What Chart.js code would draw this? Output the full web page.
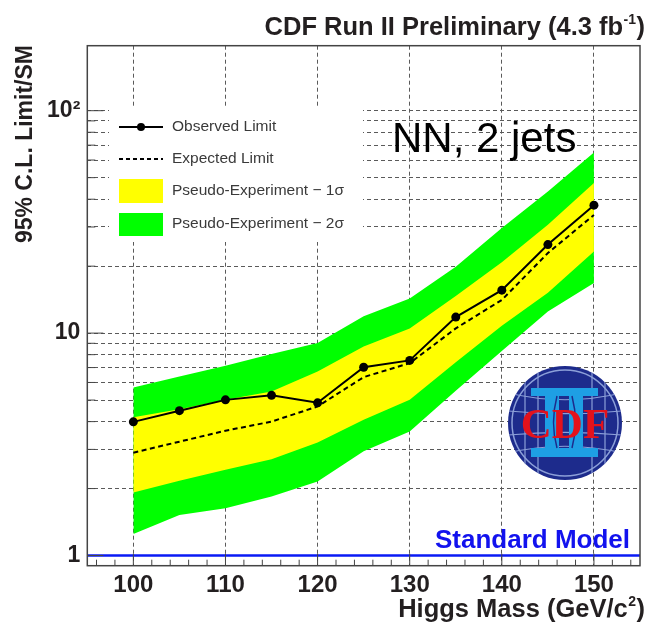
<!DOCTYPE html>
<html>
<head>
<meta charset="utf-8">
<script src="https://cdn.jsdelivr.net/npm/chart.js@4.4.1/dist/chart.umd.min.js"></script>
<style>
  html, body { margin: 0; padding: 0; background: #fff; }
  #wrap { width: 646px; height: 624px; }
</style>
</head>
<body>
<div id="wrap"><canvas id="limits" width="646" height="624"></canvas></div>
<script>
// Higgs mass points and the 95% CL limits (ratio to SM)
var masses     = [100, 105, 110, 115, 120, 125, 130, 135, 140, 145, 150];
var observed   = [3.99, 4.48, 5.01, 5.25, 4.86, 7.02, 7.54, 11.8, 15.6, 25.0, 37.6];
var expected   = [2.90, 3.25, 3.64, 4.00, 4.68, 6.34, 7.33, 10.5, 14.1, 22.9, 34.0];
var sigma1Up   = [4.19, 4.55, 5.01, 5.46, 6.72, 8.71, 10.5, 14.7, 20.8, 30.7, 47.3];
var sigma1Down = [1.92, 2.17, 2.43, 2.71, 3.22, 4.08, 5.01, 7.4, 10.8, 15.2, 23.3];
var sigma2Up   = [5.69, 6.38, 7.13, 8.06, 9.02, 11.9, 14.3, 19.9, 29.7, 43.3, 64.9];
var sigma2Down = [1.25, 1.52, 1.63, 1.84, 2.15, 2.94, 3.61, 5.5, 8.3, 12.5, 16.8];
var smLevel = 1;

var xTicks = [100, 110, 120, 130, 140, 150];
var yTicks = [1, 2, 3, 4, 5, 6, 7, 8, 9, 10, 20, 30, 40, 50, 60, 70, 80, 90, 100];
var yLabels = { 1: '1', 10: '10', 100: '10\u00b2' };

var TXT = '#231f20';
var GRID = '#5a5a5a';

function pts(arr) {
  return masses.map(function (m, i) { return { x: m, y: arr[i] }; });
}

function line(ctx, x1, y1, x2, y2) {
  ctx.beginPath(); ctx.moveTo(x1, y1); ctx.lineTo(x2, y2); ctx.stroke();
}

// white box behind the legend, covers the grid
var legendBox = { x: 109, y: 108, w: 254, h: 134 };

var decor = {
  id: 'decor',
  beforeDatasetsDraw: function (chart) {
    var ctx = chart.ctx;
    ctx.save();
    ctx.fillStyle = '#fff';
    ctx.fillRect(legendBox.x, legendBox.y, legendBox.w, legendBox.h);
    ctx.restore();
  },
  afterDatasetsDraw: function (chart) {
    drawLogo(chart.ctx, 565, 423, 57);
  },
  afterDraw: function (chart) {
    var ctx = chart.ctx, a = chart.chartArea;
    var xs = chart.scales.x, ys = chart.scales.y;
    ctx.save();

    // frame
    ctx.strokeStyle = '#444';
    ctx.lineWidth = 1.5;
    ctx.strokeRect(a.left, a.top, a.right - a.left, a.bottom - a.top);

    // inward ticks
    ctx.lineWidth = 1;
    for (var v = 96; v <= 154; v += 2) {
      var px = xs.getPixelForValue(v);
      line(ctx, px, a.bottom, px, a.bottom - (v % 10 === 0 ? 12 : 6));
    }
    yTicks.forEach(function (t) {
      var py = ys.getPixelForValue(t);
      line(ctx, a.left, py, a.left + (yLabels[t] ? 16 : 8), py);
    });

    // legend
    ctx.font = '15.5px "Liberation Sans", Arial, sans-serif';
    ctx.textBaseline = 'middle';
    ctx.textAlign = 'left';
    ctx.strokeStyle = '#000';
    ctx.lineWidth = 2;
    line(ctx, 119, 127, 163, 127);
    ctx.beginPath(); ctx.arc(141, 127, 4, 0, Math.PI * 2); ctx.fillStyle = '#000'; ctx.fill();
    ctx.setLineDash([4, 3]);
    line(ctx, 119, 159, 163, 159);
    ctx.setLineDash([]);
    ctx.fillStyle = '#ffff00'; ctx.fillRect(119, 179, 44, 24);
    ctx.fillStyle = '#00ff00'; ctx.fillRect(119, 213, 44, 23);
    ctx.fillStyle = '#3a3a3a';
    ctx.fillText('Observed Limit', 172, 127);
    ctx.fillText('Expected Limit', 172, 159);
    ctx.fillText('Pseudo-Experiment \u2212 1\u03c3', 172, 191);
    ctx.fillText('Pseudo-Experiment \u2212 2\u03c3', 172, 224);

    // channel label
    ctx.fillStyle = '#000';
    ctx.textBaseline = 'alphabetic';
    ctx.font = '42px "Liberation Sans", Arial, sans-serif';
    ctx.fillText('NN, 2 jets', 392, 152);

    // SM reference label
    ctx.fillStyle = '#1212ee';
    ctx.textAlign = 'right';
    ctx.font = 'bold 26px "Liberation Sans", Arial, sans-serif';
    ctx.fillText('Standard Model', 630, 548);

    // title with superscript
    ctx.fillStyle = TXT;
    drawSup(ctx, 645, 35, 'CDF Run II Preliminary (4.3 fb', '-1', ')', 25.5, 14);
    // x axis title
    drawSup(ctx, 645, 617, 'Higgs Mass (GeV/c', '2', ')', 25.5, 14);

    // y axis title
    ctx.save();
    ctx.translate(32, 45);
    ctx.rotate(-Math.PI / 2);
    ctx.textAlign = 'right';
    ctx.font = 'bold 23px "Liberation Sans", Arial, sans-serif';
    ctx.fillText('95% C.L. Limit/SM', 0, 0);
    ctx.restore();

    ctx.restore();
  }
};

// right-aligned bold text with a raised part before the closing bracket
function drawSup(ctx, right, base, main, sup, tail, size, supSize) {
  var f = 'bold ' + size + 'px "Liberation Sans", Arial, sans-serif';
  var fs = 'bold ' + supSize + 'px "Liberation Sans", Arial, sans-serif';
  ctx.textAlign = 'left';
  ctx.font = f;
  var wMain = ctx.measureText(main).width, wTail = ctx.measureText(tail).width;
  ctx.font = fs;
  var wSup = ctx.measureText(sup).width;
  var x0 = right - wMain - wSup - wTail - 1;
  ctx.font = f;
  ctx.fillText(main, x0, base);
  ctx.font = fs;
  ctx.fillText(sup, x0 + wMain + 0.5, base - size * 0.45);
  ctx.font = f;
  ctx.fillText(tail, x0 + wMain + wSup + 1, base);
}

function drawLogo(ctx, cx, cy, r) {
  ctx.save();
  ctx.beginPath(); ctx.arc(cx, cy, r, 0, Math.PI * 2);
  ctx.fillStyle = '#1d2b8c'; ctx.fill();
  ctx.clip();
  ctx.strokeStyle = '#8c9fd8';
  ctx.lineWidth = 1.2;
  // meridians
  [-40, -27, 27, 40].forEach(function (dx) { line(ctx, cx + dx, cy - r, cx + dx, cy + r); });
  // latitude curves
  [-30, -12, 12, 30].forEach(function (dy) {
    ctx.beginPath();
    ctx.moveTo(cx - r, cy + dy);
    ctx.quadraticCurveTo(cx, cy + dy * 0.55, cx + r, cy + dy);
    ctx.stroke();
  });
  // the "II"
  ctx.fillStyle = '#1e9fe4';
  ctx.fillRect(cx - 34, cy - 35, 67, 8);
  ctx.fillRect(cx - 34, cy + 25, 67, 9);
  ctx.fillRect(cx - 20, cy - 28, 14, 54);
  ctx.fillRect(cx + 4, cy - 28, 14, 54);
  ctx.strokeStyle = '#1d2b8c';
  ctx.lineWidth = 1.5;
  ctx.beginPath(); ctx.moveTo(cx - 8, cy - 27); ctx.quadraticCurveTo(cx - 15, cy, cx - 8, cy + 25); ctx.stroke();
  ctx.beginPath(); ctx.moveTo(cx + 7, cy - 27); ctx.quadraticCurveTo(cx + 14, cy, cx + 7, cy + 25); ctx.stroke();
  ctx.strokeStyle = '#8c9fd8';
  ctx.lineWidth = 1.5;
  ctx.beginPath(); ctx.arc(cx, cy, r - 4, 0, Math.PI * 2); ctx.stroke();
  // red letters
  ctx.fillStyle = '#e3121c';
  ctx.font = 'bold 43px "Liberation Serif", "Times New Roman", serif';
  ctx.textAlign = 'center';
  ctx.textBaseline = 'alphabetic';
  ctx.fillText('CDF', cx, cy + 15);
  ctx.restore();
}

var chart = new Chart(document.getElementById('limits'), {
  type: 'line',
  data: {
    datasets: [
      { data: [{ x: 95, y: smLevel }, { x: 155, y: smLevel }], borderColor: '#0a1af5', borderWidth: 2.5, pointRadius: 0, order: -1 },
      { data: pts(observed), borderColor: '#000', borderWidth: 2, pointRadius: 4.5, pointBackgroundColor: '#000', pointBorderWidth: 0, order: 0 },
      { data: pts(expected), borderColor: '#000', borderWidth: 2, borderDash: [5, 3.5], pointRadius: 0, order: 1 },
      { data: pts(sigma1Up), borderWidth: 0, pointRadius: 0, backgroundColor: '#ffff00', fill: '+1', order: 2 },
      { data: pts(sigma1Down), borderWidth: 0, pointRadius: 0, fill: false, order: 3 },
      { data: pts(sigma2Up), borderWidth: 0, pointRadius: 0, backgroundColor: '#00ff00', fill: '+1', order: 4 },
      { data: pts(sigma2Down), borderWidth: 0, pointRadius: 0, fill: false, order: 5 }
    ]
  },
  options: {
    responsive: false,
    animation: false,
    devicePixelRatio: 1,
    layout: { padding: { top: 45.7, right: 6, left: 0, bottom: 0 } },
    plugins: { legend: { display: false }, tooltip: { enabled: false } },
    scales: {
      x: {
        type: 'linear', min: 95, max: 155,
        afterBuildTicks: function (s) { s.ticks = xTicks.map(function (v) { return { value: v }; }); },
        afterFit: function (s) { s.height = 58.3; },
        ticks: { autoSkip: false, maxRotation: 0, padding: 5, color: TXT, font: { family: '"Liberation Sans", Arial', size: 24, weight: 'bold' } },
        grid: { color: GRID, lineWidth: 1, drawTicks: false },
        border: { display: false, dash: [4, 3] }
      },
      y: {
        type: 'logarithmic', min: 0.9, max: 196,
        afterBuildTicks: function (s) { s.ticks = yTicks.map(function (v) { return { value: v }; }); },
        afterFit: function (s) { s.width = 87.3; },
        ticks: {
          autoSkip: false, padding: 7, color: TXT,
          font: { family: '"Liberation Sans", Arial', size: 23, weight: 'bold' },
          callback: function (v) { return yLabels[v] || ''; }
        },
        grid: { color: GRID, lineWidth: 1, drawTicks: false },
        border: { display: false, dash: [4, 3] }
      }
    }
  },
  plugins: [decor]
});
</script>
</body>
</html>
